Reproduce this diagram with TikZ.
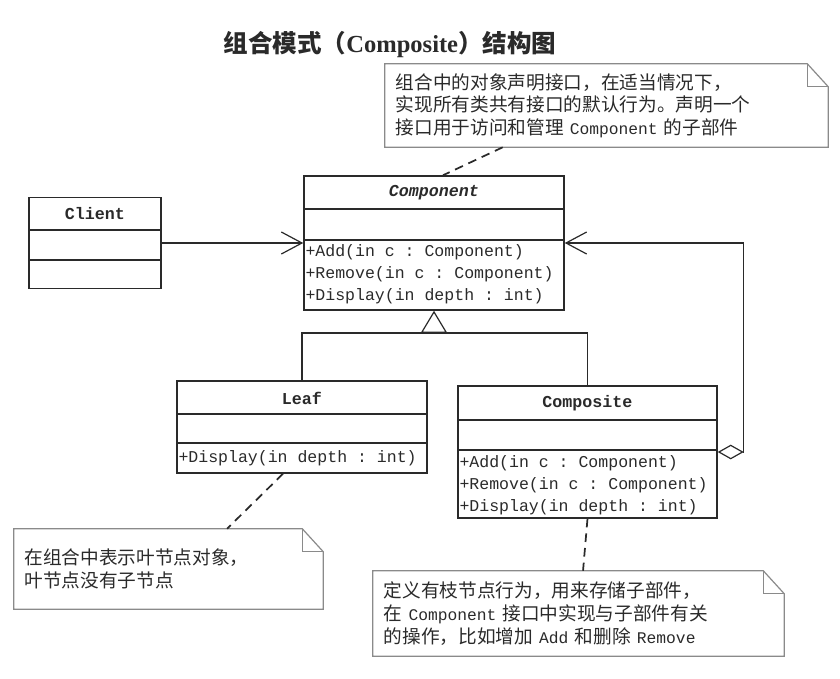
\documentclass[tikz,border=0pt]{standalone}
\usepackage{fontspec}
\setmainfont{Liberation Serif}
\setmonofont{Liberation Mono}
\newfontfamily\cjkfont{Noto Sans CJK SC}
\usetikzlibrary{arrows.meta}

\definecolor{ink}{HTML}{2A2A2A}
\definecolor{noteline}{HTML}{8A8A8A}

\tikzset{
  classbox/.style={draw=ink,line width=1.1pt,inner sep=0pt},
  classline/.style={draw=ink,line width=1.1pt},
  nametext/.style={font=\fontsize{12.5}{14}\selectfont\ttfamily\bfseries,inner sep=0pt},
  opstext/.style={font=\fontsize{12.4}{16.5}\selectfont\ttfamily,align=left,inner sep=1.5pt},
  notebox/.style={font=\fontsize{14}{17}\selectfont\cjkfont,align=left,inner xsep=8pt,inner ysep=0pt},
  noteedge/.style={draw=noteline,line width=0.9pt},
  notelink/.style={draw=ink,line width=1.3pt,dash pattern=on 6.5pt off 4.5pt},
  conn/.style={draw=ink,line width=0.9pt},
  assoc/.style={conn,-{Straight Barb[length=15.5pt,width=16.5pt]}},
  inherit/.style={conn,-{Triangle[open,length=16.5pt,width=19.5pt]}},
  aggr/.style={conn,{Diamond[open,length=19.5pt,width=11pt]}-{Straight Barb[length=15.5pt,width=16.5pt]}}
}

\newcommand{\lat}[1]{{\fontsize{12.2}{17}\selectfont\ttfamily #1}}
\newcommand{\foldnote}[1]{%
  \draw[noteedge] (#1.south west) -- (#1.north west) -- ([xshift=-15.75pt]#1.north east)
    -- ([yshift=-17.25pt]#1.north east) -- (#1.south east) -- cycle;
  \draw[noteedge] ([xshift=-15.75pt]#1.north east) |- ([yshift=-17.25pt]#1.north east);}

\begin{document}
\begin{tikzpicture}[x=0.75pt,y=-0.75pt,every node/.style={text=ink}]
\useasboundingbox (0,0) rectangle (840,679);

\node[font=\fontsize{18.4}{22}\selectfont\bfseries] (title) at (390,45)
  {{\cjkfont 组合模式（}Composite{\cjkfont ）结构图}};

\node[classbox,minimum width=99pt,minimum height=68.25pt] (client) at (95,243) {};
\node[classbox,minimum width=195pt,minimum height=100.5pt] (component) at (434,243) {};
\node[classbox,minimum width=187.5pt,minimum height=69pt] (leaf) at (302,427) {};
\node[classbox,minimum width=194.25pt,minimum height=99pt] (composite) at (587.5,452) {};

\foreach \c/\ya/\yb in {client/230/260,component/209/240,leaf/414/443,composite/420/450}{
  \draw[classline] (\c.west |- 0,\ya) -- (\c.east |- 0,\ya);
  \draw[classline] (\c.west |- 0,\yb) -- (\c.east |- 0,\yb);
}

\node[nametext] (clientname) at (client.center |- 0,214) {Client};
\node[nametext,font=\fontsize{12.5}{14}\selectfont\ttfamily\bfseries\itshape] (componentname) at (component.center |- 0,193) {Component};
\node[nametext] (leafname) at (leaf.center |- 0,398) {Leaf};
\node[nametext] (compositename) at (composite.center |- 0,403) {Composite};

\node[opstext,anchor=west] (componentops) at (component.west |- 0,274)
  {+Add(in c : Component)\\+Remove(in c : Component)\\+Display(in depth : int)};
\node[opstext,anchor=west] (leafops) at (leaf.west |- 0,458) {+Display(in depth : int)};
\node[opstext,anchor=west] (compositeops) at (composite.west |- 0,485)
  {+Add(in c : Component)\\+Remove(in c : Component)\\+Display(in depth : int)};

\node[notebox,text width=316.25pt,minimum height=62.25pt] (topnote) at (606.5,105.5)
  {组合中的对象声明接口，在适当情况下，\\实现所有类共有接口的默认行为。声明一个\\接口用于访问和管理\lat{ Component }的子部件};
\node[notebox,text width=215.75pt,minimum height=60pt] (leafnote) at (168.5,569)
  {在组合中表示叶节点对象，\\叶节点没有子节点};
\node[notebox,text width=292.25pt,minimum height=63.75pt] (compnote) at (578.5,613.5)
  {定义有枝节点行为，用来存储子部件，\\在\lat{ Component }接口中实现与子部件有关\\的操作，比如增加\lat{ Add }和删除\lat{ Remove}};
\foldnote{topnote}
\foldnote{leafnote}
\foldnote{compnote}

\draw[assoc] (client) -- (component);
\coordinate (joint) at (434,333);
\draw[conn] (leaf.north) |- (joint) -| (composite.north);
\draw[inherit] (joint) -- (component.south);
\draw[aggr] (composite.east) -- ++(26,0) |- (component.east);

\draw[notelink] ([xshift=88.5pt]topnote.south west) -- ([xshift=6.75pt]component.north);
\draw[notelink] ([xshift=-14.25pt]leaf.south) -- ([xshift=43.9pt]leafnote.north);
\draw[notelink] (composite.south) -- ([xshift=3.4pt]compnote.north);
\end{tikzpicture}
\end{document}
